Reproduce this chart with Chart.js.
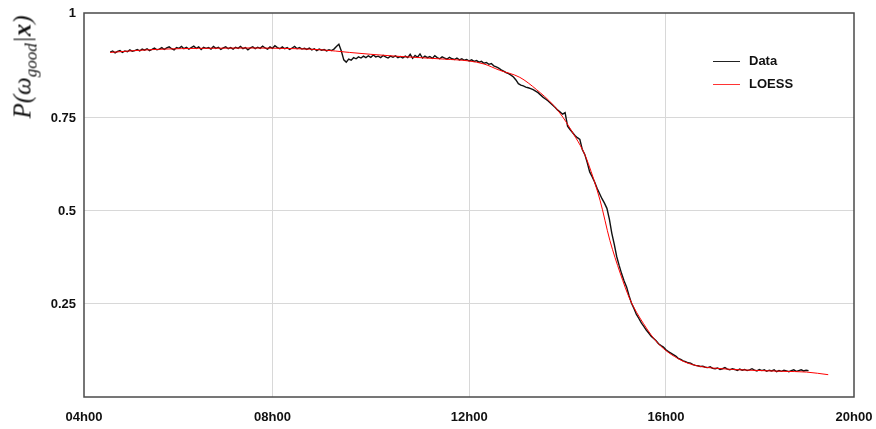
<!DOCTYPE html>
<html lang="en">
<head>
    <meta charset="UTF-8">
    <title>P(good | x) over the day</title>
    <style>
        body {
            margin: 0;
            background: #fff;
        }
        #wrap {
            position: relative;
            width: 876px;
            height: 429px;
        }
        /* y axis title, rotated */
        #ylabel {
            position: absolute;
            left: 25px;
            top: 67px;
            transform: translate(-50%, -50%) rotate(-90deg);
            white-space: nowrap;
            font: italic 25px "Liberation Serif", serif;
            color: #111;
        }
        #ylabel sub {
            font-size: 17px;
        }
        /* legend */
        .legend {
            position: absolute;
            left: 713px;
            font: bold 13px "Liberation Sans", Arial, sans-serif;
            color: #111;
        }
        .legend span {
            display: inline-block;
            width: 27px;
            height: 0;
            border-top: 1.5px solid;
            vertical-align: middle;
            margin-right: 9px;
        }
    </style>
</head>
<body>
<div id="wrap">
    <canvas id="chart" width="876" height="429"></canvas>
    <div id="ylabel">P(ω<sub>good</sub>|<b>x</b>)</div>
    <div class="legend" style="top:53px"><span style="border-color:#222"></span>Data</div>
    <div class="legend" style="top:76px"><span style="border-color:#f33"></span>LOESS</div>
</div>

<script src="https://cdn.jsdelivr.net/npm/chart.js"></script>
<script>
    // raw data: one sample every 0.05 h starting at 4.70 h
    const dataStartHour = 4.70;
    const dataStepHour = 0.05;
    const dataValues = [
        0.927, 0.930, 0.925, 0.929, 0.931, 0.926, 0.930, 0.928, 0.933, 0.929,
        0.931, 0.934, 0.930, 0.935, 0.932, 0.936, 0.931, 0.934, 0.938, 0.933,
        0.935, 0.939, 0.934, 0.938, 0.941, 0.936, 0.933, 0.939, 0.937, 0.942,
        0.936, 0.940, 0.935, 0.939, 0.943, 0.937, 0.941, 0.934, 0.940, 0.937,
        0.939, 0.935, 0.942, 0.937, 0.940, 0.934, 0.938, 0.941, 0.936, 0.939,
        0.935, 0.940, 0.937, 0.942, 0.936, 0.939, 0.933, 0.938, 0.941, 0.936,
        0.940, 0.937, 0.943, 0.938, 0.935, 0.941, 0.937, 0.944, 0.939, 0.936,
        0.941, 0.936, 0.939, 0.934, 0.938, 0.942, 0.936, 0.939, 0.935, 0.937,
        0.934, 0.938, 0.933, 0.936, 0.931, 0.935, 0.932, 0.934, 0.930, 0.933,
        0.931, 0.935, 0.942, 0.948, 0.930, 0.906, 0.900, 0.908, 0.905, 0.912,
        0.909, 0.914, 0.911, 0.916, 0.912, 0.917, 0.913, 0.919, 0.914, 0.916,
        0.912, 0.918, 0.914, 0.911, 0.916, 0.913, 0.917, 0.912, 0.915, 0.911,
        0.916, 0.912, 0.921, 0.910, 0.918, 0.913, 0.922, 0.911, 0.916, 0.912,
        0.915, 0.910, 0.917, 0.912, 0.909, 0.914, 0.911, 0.908, 0.913, 0.909,
        0.907, 0.911, 0.906, 0.909, 0.905, 0.907, 0.903, 0.906, 0.902, 0.904,
        0.900, 0.902, 0.897, 0.899, 0.894, 0.896, 0.890, 0.887, 0.884, 0.879,
        0.876, 0.872, 0.869, 0.865, 0.860, 0.852, 0.842, 0.838, 0.836, 0.833,
        0.831, 0.829, 0.826, 0.822, 0.818, 0.812, 0.806, 0.801, 0.796, 0.790,
        0.784, 0.778, 0.771, 0.766, 0.760, 0.764, 0.728, 0.719, 0.711, 0.703,
        0.697, 0.692, 0.665, 0.652, 0.630, 0.605, 0.592, 0.578, 0.561, 0.547,
        0.533, 0.521, 0.507, 0.478, 0.440, 0.410, 0.377, 0.353, 0.331, 0.312,
        0.296, 0.272, 0.252, 0.238, 0.222, 0.211, 0.199, 0.190, 0.180, 0.172,
        0.163, 0.157, 0.151, 0.143, 0.138, 0.134, 0.127, 0.122, 0.118, 0.114,
        0.110, 0.104, 0.101, 0.097, 0.095, 0.092, 0.091, 0.087, 0.085, 0.084,
        0.082, 0.083, 0.080, 0.079, 0.081, 0.077, 0.076, 0.078, 0.074, 0.076,
        0.079, 0.075, 0.073, 0.076, 0.074, 0.071, 0.075, 0.072, 0.074, 0.071,
        0.073, 0.076, 0.072, 0.070, 0.074, 0.071, 0.073, 0.069, 0.072, 0.070,
        0.073, 0.068, 0.071, 0.069, 0.072, 0.070, 0.068, 0.071, 0.073, 0.069,
        0.071, 0.073, 0.070, 0.072, 0.071
    ];

    // LOESS fit
    const loessHours = [4.70, 5.20, 5.80, 6.50, 7.50, 8.50, 9.00, 9.57, 10.00, 10.50, 11.00, 11.50,
        12.00, 12.30, 12.62, 13.03, 13.37, 13.70, 13.91, 14.11, 14.31, 14.42, 14.66, 14.86,
        15.07, 15.27, 15.54, 15.84, 16.29, 16.63, 17.03, 17.71, 18.38, 18.86, 19.30];
    const loessValues = [0.926, 0.931, 0.935, 0.937, 0.938, 0.936, 0.933, 0.926, 0.921, 0.916, 0.912, 0.908,
        0.903, 0.895, 0.878, 0.859, 0.826, 0.786, 0.751, 0.709, 0.663, 0.628, 0.529, 0.421,
        0.333, 0.262, 0.198, 0.144, 0.100, 0.084, 0.077, 0.072, 0.069, 0.067, 0.060];

    // axes
    const xTickHours = [4.168, 8, 12, 16, 19.824];
    const xTickLabels = ['04h00', '08h00', '12h00', '16h00', '20h00'];
    const yTickValues = [0.25, 0.5, 0.75, 1.032];
    const yTickLabels = ['0.25', '0.5', '0.75', '1'];

    const dataPoints = dataValues.map((v, i) => ({ x: dataStartHour + i * dataStepHour, y: v }));
    const loessPoints = loessHours.map((h, i) => ({ x: h, y: loessValues[i] }));

    const tickFont = { family: '"Liberation Sans", Arial, sans-serif', size: 13, weight: 'bold' };

    // frame around the plot area
    const framePlugin = {
        id: 'frame',
        afterDraw(chart) {
            const a = chart.chartArea;
            const ctx = chart.ctx;
            ctx.save();
            ctx.strokeStyle = '#4a4a4a';
            ctx.lineWidth = 1.5;
            ctx.strokeRect(a.left, a.top, a.right - a.left, a.bottom - a.top);
            ctx.restore();
        }
    };

    function gridColor(ctx, n) {
        return (ctx.index === 0 || ctx.index === n - 1) ? 'rgba(0,0,0,0)' : '#d8d8d8';
    }

    new Chart(document.getElementById('chart'), {
        type: 'line',
        data: {
            datasets: [{
                label: 'Data',
                data: dataPoints,
                borderColor: '#111',
                borderWidth: 1.4,
                pointRadius: 0,
                tension: 0,
                order: 1
            }, {
                label: 'LOESS',
                data: loessPoints,
                borderColor: '#ff0000',
                borderWidth: 1,
                pointRadius: 0,
                cubicInterpolationMode: 'monotone',
                order: 0
            }]
        },
        options: {
            responsive: false,
            animation: false,
            layout: { padding: { top: 13, right: 22, left: 0, bottom: 0 } },
            plugins: {
                legend: { display: false },
                tooltip: { enabled: false }
            },
            scales: {
                x: {
                    type: 'linear',
                    min: xTickHours[0],
                    max: xTickHours[xTickHours.length - 1],
                    afterBuildTicks: s => { s.ticks = xTickHours.map(v => ({ value: v })); },
                    afterFit: s => {
                        s.height = 32;
                        s.paddingLeft = 0;
                        s.paddingRight = 0;
                    },
                    ticks: {
                        autoSkip: false,
                        maxRotation: 0,
                        padding: 13,
                        color: '#111',
                        font: tickFont,
                        callback: (v, i) => xTickLabels[i]
                    },
                    grid: {
                        drawTicks: false,
                        color: ctx => gridColor(ctx, xTickHours.length)
                    },
                    border: { display: false }
                },
                y: {
                    min: 0,
                    max: yTickValues[yTickValues.length - 1],
                    afterBuildTicks: s => { s.ticks = yTickValues.map(v => ({ value: v })); },
                    afterFit: s => {
                        s.width = 84;
                        s.paddingTop = 0;
                        s.paddingBottom = 0;
                    },
                    ticks: {
                        autoSkip: false,
                        padding: 8,
                        color: '#111',
                        font: tickFont,
                        callback: (v, i) => yTickLabels[i]
                    },
                    grid: {
                        drawTicks: false,
                        color: ctx => ctx.index === yTickValues.length - 1 ? 'rgba(0,0,0,0)' : '#d8d8d8'
                    },
                    border: { display: false }
                }
            }
        },
        plugins: [framePlugin]
    });
</script>
</body>
</html>
